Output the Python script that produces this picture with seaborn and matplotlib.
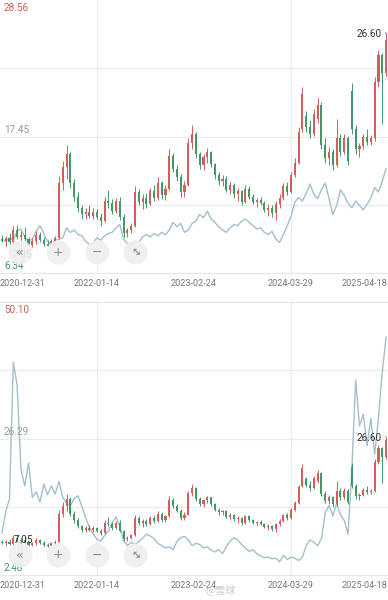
import numpy as np
import pandas as pd
import matplotlib
matplotlib.use("Agg")
import matplotlib.pyplot as plt
import seaborn as sns

# shared candles (same stock in both panels)
opens = [8.2, 8.0, 8.3, 7.9, 9.0, 8.4, 8.6, 8.2, 7.7, 8.0, 8.6, 8.1, 7.8, 7.6, 8.0,
         8.3, 13.2, 14.6, 15.8, 13.2, 12.0, 11.0, 10.4, 10.6, 10.3, 10.6, 10.2, 9.8,
         11.6, 11.4, 10.7, 11.6, 10.2, 8.7, 9.0, 9.4, 12.4, 11.5, 11.9, 11.3, 12.5,
         11.9, 13.2, 12.1, 12.7, 15.6, 14.5, 13.7, 12.4, 13.0, 16.8, 17.6, 15.8, 14.8,
         15.5, 16.0, 14.9, 13.9, 13.4, 13.6, 12.6, 13.0, 12.2, 12.5, 11.5, 12.7, 12.0,
         11.5, 11.7, 11.4, 10.8, 11.0, 10.5, 11.3, 11.9, 12.9, 12.4, 13.9, 15.0, 18.0,
         19.2, 18.2, 17.6, 18.9, 20.2, 16.6, 15.4, 16.0, 14.8, 17.2, 16.0, 17.2, 21.4,
         18.0, 16.2, 16.5, 17.3, 16.9, 17.2, 22.2, 24.6, 23.0]
highs = [8.6, 8.5, 8.7, 9.4, 9.5, 8.9, 9.3, 8.4, 8.3, 8.9, 8.8, 8.4, 8.1, 8.2, 8.5,
         13.8, 15.2, 16.6, 16.0, 13.6, 12.4, 11.2, 11.0, 11.2, 11.0, 10.9, 10.5, 12.0,
         12.6, 11.8, 11.9, 12.0, 10.4, 9.2, 9.6, 12.9, 12.7, 12.2, 12.3, 12.8, 13.0,
         13.7, 13.4, 13.0, 16.2, 15.9, 14.8, 14.0, 13.4, 17.2, 18.4, 17.8, 16.0, 15.8,
         16.3, 16.1, 15.0, 14.2, 13.9, 13.8, 13.3, 13.2, 12.8, 12.6, 13.0, 12.9, 12.2,
         11.9, 12.0, 11.6, 11.3, 11.2, 11.6, 12.2, 13.2, 13.3, 14.2, 15.4, 18.2, 21.8,
         19.6, 18.8, 19.8, 20.8, 20.4, 17.2, 16.4, 16.2, 18.9, 17.6, 17.6, 17.4, 22.1,
         18.4, 16.8, 17.6, 18.0, 17.5, 22.7, 25.1, 24.8, 26.6]
lows = [7.9, 7.6, 7.8, 7.8, 8.2, 7.05, 8.0, 7.6, 7.5, 7.8, 7.9, 7.6, 7.4, 7.5, 7.8,
        8.2, 12.6, 13.6, 12.8, 11.6, 10.6, 10.0, 10.0, 10.1, 10.0, 10.0, 9.4, 9.7,
        11.0, 10.4, 10.5, 9.9, 8.4, 8.4, 8.7, 9.3, 11.2, 10.9, 11.0, 11.2, 11.6,
        11.7, 11.8, 11.7, 12.6, 14.2, 13.4, 12.0, 12.0, 12.9, 16.2, 15.4, 14.5, 14.4,
        15.0, 14.6, 13.6, 13.0, 12.9, 12.4, 12.2, 11.9, 11.6, 11.2, 11.4, 11.8, 11.3,
        11.1, 11.2, 10.6, 10.3, 10.2, 9.9, 11.0, 11.7, 12.1, 12.3, 13.7, 14.9, 17.8,
        17.8, 17.2, 17.4, 18.6, 16.2, 15.0, 14.8, 14.4, 14.6, 15.6, 15.8, 14.8, 17.6,
        15.8, 15.5, 16.2, 16.6, 16.6, 17.0, 21.8, 18.5, 22.8]
closes = [8.0, 8.3, 7.9, 9.0, 8.4, 8.6, 8.2, 7.7, 8.0, 8.6, 8.1, 7.8, 7.6, 8.0, 8.3,
          13.2, 14.6, 15.8, 13.2, 12.0, 11.0, 10.4, 10.6, 10.3, 10.6, 10.2, 9.8, 11.6,
          11.4, 10.7, 11.6, 10.2, 8.7, 9.0, 9.4, 12.4, 11.5, 11.9, 11.3, 12.5, 11.9,
          13.2, 12.1, 12.7, 15.6, 14.5, 13.7, 12.4, 13.0, 16.8, 17.6, 15.8, 14.8, 15.5,
          16.0, 14.9, 13.9, 13.4, 13.6, 12.6, 13.0, 12.2, 12.5, 11.5, 12.7, 12.0, 11.5,
          11.7, 11.4, 10.8, 11.0, 10.5, 11.3, 11.9, 12.9, 12.4, 13.9, 15.0, 17.8, 21.2,
          18.2, 17.6, 19.4, 20.2, 16.6, 15.4, 16.0, 14.8, 17.2, 16.0, 17.2, 15.2, 18.0,
          16.2, 16.5, 17.3, 16.9, 17.2, 22.2, 24.6, 23.0, 26.0]

# light blue comparison lines
line_top = [8.2, 8.0, 8.3, 8.1, 8.9, 9.1, 8.4, 8.0, 8.2, 8.9, 9.4, 8.7, 8.0, 7.7, 8.1,
            8.2, 8.3, 9.2, 8.8, 9.0, 8.6, 8.5, 8.0, 7.7, 7.9, 8.3, 8.1, 8.5, 8.7, 8.8,
            9.2, 9.5, 8.2, 7.8, 7.6, 8.0, 7.9, 8.4, 8.6, 8.4, 8.7, 8.5, 8.8, 8.6, 9.0,
            9.7, 9.3, 9.6, 8.8, 9.0, 9.6, 9.8, 10.4, 10.1, 10.7, 10.0, 9.7, 9.3, 9.0,
            8.8, 9.2, 9.5, 9.4, 9.8, 10.0, 9.7, 9.4, 9.1, 9.2, 8.8, 8.6, 8.9, 8.2, 7.9,
            8.6, 9.4, 10.2, 11.5, 11.9, 11.6, 12.3, 13.1, 12.2, 11.8, 12.6, 13.2, 11.8,
            10.4, 11.2, 12.6, 12.1, 11.4, 11.0, 11.6, 11.2, 10.8, 11.3, 11.9, 12.8, 12.4,
            13.4, 14.5]
line_bottom = [9.8, 13.5, 15.8, 39.6, 35.6, 21.0, 18.0, 22.0, 16.0, 17.0, 15.2, 18.3,
               16.5, 18.0, 16.6, 18.8, 16.0, 15.0, 14.6, 15.8, 16.3, 14.5, 12.5, 10.8,
               9.6, 8.7, 8.4, 9.4, 10.2, 11.6, 12.6, 11.0, 8.4, 7.6, 8.2, 7.8, 8.3, 8.9,
               9.6, 9.3, 8.8, 8.0, 7.6, 7.2, 7.4, 6.9, 8.3, 9.0, 9.2, 8.6, 7.6, 8.0, 7.8,
               7.2, 7.4, 6.8, 6.5, 6.9, 6.2, 7.4, 8.4, 9.0, 8.6, 7.8, 7.2, 6.6, 6.9, 6.2,
               5.8, 5.5, 5.6, 5.3, 5.4, 4.8, 5.9, 5.2, 5.6, 5.4, 5.0, 5.6, 7.6, 8.6, 8.2,
               7.6, 8.8, 13.3, 14.6, 12.8, 15.0, 13.0, 12.0, 9.6, 21.0, 36.5, 28.5, 30.5,
               25.0, 29.8, 23.5, 30.0, 37.9, 44.0]

date_labels = ["2020-12-31", "2022-01-14", "2023-02-24", "2024-03-29", "2025-04-18"]
top_axis_labels = ["28.56", "17.45", "6.34"]
bottom_axis_labels = ["50.10", "26.29", "2.48"]
max_label = "26.60"
min_label = "7.05"

RED = "#d2605a"
GREEN = "#43986a"
BLUE = "#a3bfcc"
GRID = "#ececec"
NUM_FONT = "Roboto"


def draw_candles(ax, df):
    up = df["close"] >= df["open"]
    colors = np.where(up, RED, GREEN)
    ax.vlines(df["idx"], df["low"], df["high"], colors=colors, linewidth=0.7, zorder=3)
    body_lo = np.minimum(df["open"], df["close"])
    body_h = np.maximum(np.abs(df["close"] - df["open"]), 0.08)
    ax.bar(df["idx"], body_h, bottom=body_lo, width=0.55, color=colors,
           linewidth=0, zorder=3)


def draw_buttons(ax, y):
    xs = [20 / 388, 58 / 388, 97 / 388, 135 / 388]
    glyphs = ["«", "+", "−", "↔"]
    ax.scatter(xs, [y] * 4, s=300, color="#efefef", alpha=0.92, linewidths=0,
               transform=ax.transAxes, zorder=6, clip_on=False)
    for i, (x, g) in enumerate(zip(xs, glyphs)):
        rot = -45 if g == "↔" else 0
        ax.text(x, y, g, transform=ax.transAxes, ha="center", va="center",
                fontsize=9 if i < 3 else 8, color="#8a8a8a", rotation=rot,
                family=["DejaVu Sans"], zorder=7)


def setup_panel(ax, df, line, ylim, labels, btn_y, min_offset):
    lo, hi = ylim
    for f in (0.25, 0.5, 0.75):
        ax.axhline(lo + f * (hi - lo), color=GRID, linewidth=0.9, zorder=0)
    width = len(df)
    ax.set_xlim(-0.5, width - 0.5)
    ticks = [-0.5 + width * k / 4 for k in range(5)]
    for t in (ticks[1], ticks[3]):
        ax.axvline(t, color=GRID, linewidth=0.9, zorder=0)
    ax.set_ylim(lo, hi)

    sns.lineplot(x=df["idx"], y=line, ax=ax, color=BLUE, linewidth=1.0, zorder=2)
    draw_candles(ax, df)

    ax.set_xticks(ticks, date_labels)
    tl = ax.get_xticklabels()
    tl[0].set_ha("left")
    tl[-1].set_ha("right")
    ax.tick_params(axis="x", length=0, pad=4, labelsize=6.6, labelcolor="#777777")
    for lab in tl:
        lab.set_family(NUM_FONT)
    ax.set_yticks([])
    ax.set_xlabel("")
    ax.set_ylabel("")
    for s in ax.spines.values():
        s.set_color("#e6e6e6")
        s.set_linewidth(0.8)
    ax.spines["left"].set_visible(False)
    ax.spines["right"].set_visible(False)

    kw = dict(transform=ax.transAxes, fontsize=7.2, family=NUM_FONT, ha="left")
    ax.text(0.01, 0.97, labels[0], color="#c9605a", va="center", **kw)
    ax.text(0.01, 0.525, labels[1], color="#9a9a9a", va="center", **kw)
    ax.text(0.01, 0.025, labels[2], color=GREEN, va="center", **kw)

    imax = int(df["high"].idxmax())
    ax.annotate(max_label, xy=(df["idx"][imax], df["high"][imax]),
                xytext=(-3, -1), textcoords="offset points", ha="right", va="center",
                fontsize=7.2, family=NUM_FONT, color="#333333", zorder=5,
                arrowprops=dict(arrowstyle="-", color="#555555", lw=0.6))
    imin = int(df["low"].idxmin())
    ax.annotate(min_label, xy=(df["idx"][imin], df["low"][imin]),
                xytext=min_offset, textcoords="offset points", ha="left", va="center",
                fontsize=7.2, family=NUM_FONT, color="#333333", zorder=5)

    draw_buttons(ax, btn_y)


def main():
    sns.set_theme(style="white")
    plt.rcParams["font.family"] = ["Roboto", "DejaVu Sans"]

    df = pd.DataFrame({"idx": np.arange(len(opens)), "open": opens, "high": highs,
                       "low": lows, "close": closes})

    fig = plt.figure(figsize=(3.88, 6.0), dpi=100)
    fig.patch.set_facecolor("white")
    ax_top = fig.add_axes([0.0, 1 - 273 / 600, 1.0, 273 / 600])
    ax_bot = fig.add_axes([0.0, 25 / 600, 1.0, 273 / 600])

    setup_panel(ax_top, df, line_top, (5.17, 29.55), top_axis_labels, 21 / 273, (-6, -2))
    setup_panel(ax_bot, df, line_bottom, (2.48, 50.10), bottom_axis_labels, 20 / 273, (-5, 6))
    ax_top.spines["top"].set_visible(False)

    fig.text(0.53, 0.018, "@雪球", fontsize=7.5, color="#bdbdbd", alpha=0.8,
             family=["Noto Sans CJK SC", "DejaVu Sans"], ha="left", va="center")

    fig.savefig("out.png", dpi=100, facecolor="white")
    plt.close(fig)


if __name__ == "__main__":
    main()
